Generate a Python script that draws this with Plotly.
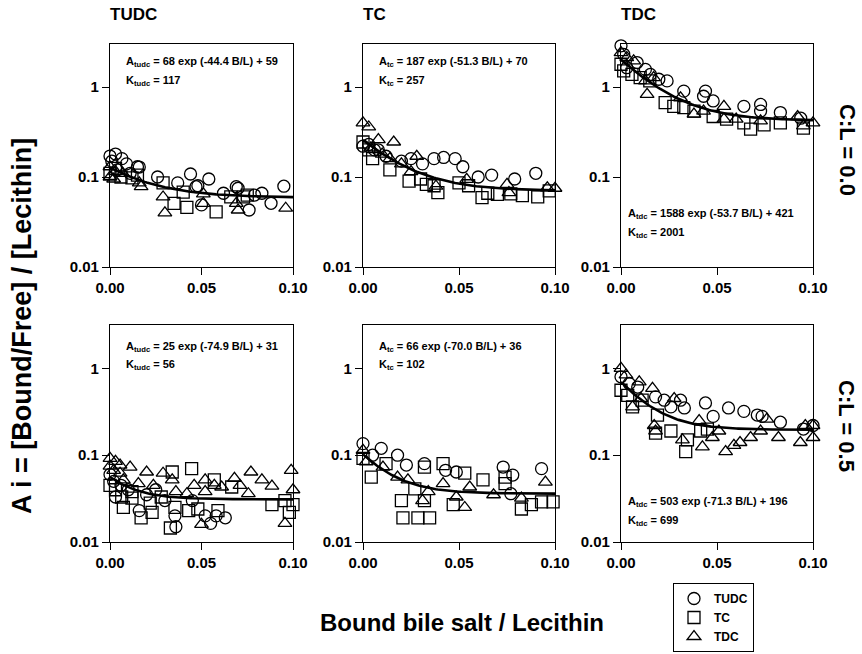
import numpy as np
import plotly.graph_objects as go

# ---------------- data ----------------
panel_titles = ["TUDC", "TC", "TDC"]
row_labels = ["C:L = 0.0", "C:L = 0.5"]
legend_names = ["TUDC", "TC", "TDC"]
x_tick_vals = [0.0, 0.05, 0.10]
x_tick_text = ["0.00", "0.05", "0.10"]
y_tick_vals = [0.01, 0.1, 1]
y_tick_text = ["0.01", "0.1", "1"]

# fit parameters printed in each panel: A = (amp*exp(-rate*B/L) + offset) * 1e-3
fit_amp = [[68, 187, 1588], [25, 66, 503]]
fit_rate = [[44.4, 51.3, 53.7], [74.9, 70.0, 71.3]]
fit_off = [[59, 70, 421], [31, 36, 196]]
fit_k = [[117, 257, 2001], [56, 102, 699]]
fit_sub = ["tudc", "tc", "tdc"]

# --- C:L = 0.0, TUDC panel
r0c0_tudc_x = [0.0, 0.001, 0.003, 0.004, 0.0065, 0.009, 0.011, 0.015, 0.016, 0.026, 0.037, 0.044, 0.047, 0.048, 0.050, 0.054, 0.062, 0.069, 0.070, 0.076, 0.079, 0.083, 0.088, 0.095]
r0c0_tudc_y = [0.171, 0.15, 0.18, 0.12, 0.16, 0.14, 0.11, 0.13, 0.129, 0.10, 0.086, 0.108, 0.078, 0.080, 0.049, 0.095, 0.066, 0.078, 0.075, 0.043, 0.063, 0.066, 0.051, 0.079]
r0c0_tc_x = [0.0, 0.003, 0.006, 0.012, 0.015, 0.029, 0.035, 0.040, 0.042, 0.058, 0.066, 0.073, 0.075]
r0c0_tc_y = [0.11, 0.125, 0.10, 0.098, 0.105, 0.086, 0.051, 0.068, 0.046, 0.041, 0.060, 0.060, 0.063]
r0c0_tdc_x = [0.0, 0.0, 0.002, 0.003, 0.007, 0.016, 0.017, 0.029, 0.030, 0.051, 0.051, 0.069, 0.070, 0.096]
r0c0_tdc_y = [0.13, 0.10, 0.095, 0.115, 0.11, 0.086, 0.078, 0.060, 0.040, 0.065, 0.051, 0.051, 0.043, 0.045]

# --- C:L = 0.0, TC panel
r0c1_tudc_x = [0.0, 0.003, 0.006, 0.008, 0.012, 0.020, 0.025, 0.031, 0.037, 0.042, 0.048, 0.052, 0.060, 0.067, 0.079, 0.090]
r0c1_tudc_y = [0.22, 0.23, 0.20, 0.20, 0.17, 0.15, 0.16, 0.14, 0.16, 0.165, 0.16, 0.13, 0.10, 0.105, 0.095, 0.11]
r0c1_tc_x = [0.0, 0.003, 0.005, 0.014, 0.024, 0.030, 0.033, 0.037, 0.039, 0.050, 0.055, 0.062, 0.065, 0.070, 0.077, 0.083, 0.091, 0.097]
r0c1_tc_y = [0.245, 0.20, 0.16, 0.12, 0.09, 0.095, 0.083, 0.080, 0.067, 0.086, 0.080, 0.059, 0.066, 0.064, 0.065, 0.062, 0.060, 0.070]
r0c1_tdc_x = [0.0, 0.003, 0.004, 0.008, 0.010, 0.014, 0.016, 0.020, 0.025, 0.028, 0.038, 0.054, 0.075, 0.076, 0.096, 0.100]
r0c1_tdc_y = [0.40, 0.36, 0.21, 0.26, 0.18, 0.16, 0.245, 0.14, 0.115, 0.17, 0.079, 0.094, 0.083, 0.067, 0.076, 0.075]

# --- C:L = 0.0, TDC panel
r0c2_tudc_x = [0.0, 0.0014, 0.003, 0.0084, 0.0127, 0.0153, 0.0197, 0.024, 0.0327, 0.043, 0.044, 0.048, 0.064, 0.0727, 0.0727, 0.083, 0.0936]
r0c2_tudc_y = [2.87, 2.31, 1.64, 1.87, 1.57, 1.38, 1.22, 1.17, 0.90, 0.79, 0.90, 0.70, 0.61, 0.64, 0.54, 0.52, 0.45]
r0c2_tc_x = [0.0, 0.0014, 0.0057, 0.010, 0.015, 0.023, 0.0275, 0.0327, 0.038, 0.048, 0.055, 0.064, 0.0675, 0.0745, 0.083, 0.095]
r0c2_tc_y = [1.79, 1.51, 1.38, 1.27, 1.17, 0.67, 0.61, 0.59, 0.54, 0.47, 0.44, 0.40, 0.34, 0.38, 0.40, 0.35]
r0c2_tdc_x = [0.0, 0.003, 0.0066, 0.0127, 0.0136, 0.017, 0.031, 0.038, 0.043, 0.0536, 0.0536, 0.060, 0.0727, 0.092, 0.095, 0.100]
r0c2_tdc_y = [2.41, 2.12, 1.95, 1.17, 0.83, 1.27, 0.76, 0.50, 0.54, 0.61, 0.44, 0.44, 0.42, 0.47, 0.37, 0.40]

# --- C:L = 0.5, TUDC panel
r1c0_tudc_x = [0.0, 0.002, 0.003, 0.006, 0.010, 0.016, 0.020, 0.025, 0.030, 0.0355, 0.036, 0.045, 0.052, 0.055, 0.058, 0.063]
r1c0_tudc_y = [0.060, 0.050, 0.033, 0.045, 0.040, 0.023, 0.035, 0.040, 0.030, 0.020, 0.015, 0.030, 0.020, 0.0164, 0.020, 0.019]
r1c0_tc_x = [0.0, 0.003, 0.0064, 0.0073, 0.012, 0.012, 0.017, 0.022, 0.023, 0.028, 0.033, 0.034, 0.0355, 0.043, 0.0446, 0.048, 0.057, 0.059, 0.0665, 0.0885, 0.0956, 0.098, 0.100]
r1c0_tc_y = [0.045, 0.040, 0.033, 0.025, 0.032, 0.038, 0.019, 0.028, 0.022, 0.033, 0.0145, 0.064, 0.025, 0.023, 0.070, 0.024, 0.052, 0.023, 0.043, 0.027, 0.030, 0.022, 0.027]
r1c0_tdc_x = [0.0, 0.0, 0.002, 0.003, 0.0055, 0.0055, 0.0073, 0.011, 0.0155, 0.020, 0.0237, 0.029, 0.034, 0.036, 0.042, 0.046, 0.050, 0.052, 0.052, 0.057, 0.061, 0.068, 0.071, 0.0756, 0.077, 0.083, 0.0885, 0.0956, 0.099, 0.100]
r1c0_tdc_y = [0.092, 0.075, 0.067, 0.085, 0.077, 0.062, 0.052, 0.073, 0.047, 0.064, 0.045, 0.062, 0.052, 0.038, 0.036, 0.045, 0.016, 0.052, 0.038, 0.045, 0.043, 0.054, 0.045, 0.036, 0.064, 0.052, 0.044, 0.0164, 0.067, 0.040]

# --- C:L = 0.5, TC panel
r1c1_tudc_x = [0.0, 0.005, 0.0095, 0.018, 0.0226, 0.032, 0.043, 0.0486, 0.073, 0.077, 0.078, 0.093]
r1c1_tudc_y = [0.136, 0.10, 0.12, 0.10, 0.077, 0.080, 0.067, 0.064, 0.073, 0.036, 0.059, 0.070]
r1c1_tc_x = [0.0, 0.0043, 0.012, 0.020, 0.0208, 0.027, 0.0286, 0.032, 0.032, 0.0347, 0.0417, 0.047, 0.053, 0.0625, 0.074, 0.074, 0.0825, 0.0877, 0.093, 0.099]
r1c1_tc_y = [0.092, 0.056, 0.080, 0.030, 0.019, 0.041, 0.019, 0.073, 0.030, 0.019, 0.080, 0.027, 0.062, 0.052, 0.056, 0.047, 0.024, 0.027, 0.029, 0.029]
r1c1_tdc_x = [0.0, 0.0017, 0.0104, 0.018, 0.0234, 0.031, 0.034, 0.0417, 0.0486, 0.053, 0.0556, 0.068, 0.0825, 0.095]
r1c1_tdc_y = [0.114, 0.084, 0.073, 0.056, 0.052, 0.030, 0.038, 0.047, 0.033, 0.025, 0.043, 0.035, 0.032, 0.049]

# --- C:L = 0.5, TDC panel
r1c2_tudc_x = [0.0, 0.0043, 0.0087, 0.018, 0.0225, 0.026, 0.031, 0.033, 0.044, 0.048, 0.056, 0.064, 0.071, 0.0735, 0.083, 0.095, 0.100]
r1c2_tudc_y = [0.80, 0.67, 0.61, 0.47, 0.43, 0.36, 0.43, 0.35, 0.40, 0.28, 0.35, 0.32, 0.29, 0.28, 0.24, 0.20, 0.22]
r1c2_tc_x = [0.0, 0.0035, 0.006, 0.011, 0.018, 0.019, 0.026, 0.0337, 0.0346, 0.0415, 0.045]
r1c2_tc_y = [0.56, 0.49, 0.36, 0.43, 0.18, 0.29, 0.19, 0.11, 0.15, 0.19, 0.20]
r1c2_tdc_x = [0.0, 0.0026, 0.006, 0.0095, 0.0104, 0.0164, 0.0173, 0.018, 0.0277, 0.032, 0.0407, 0.0424, 0.0476, 0.051, 0.0545, 0.0588, 0.062, 0.0675, 0.0727, 0.076, 0.082, 0.0934, 0.096, 0.100, 0.100]
r1c2_tdc_y = [1.00, 0.84, 0.36, 0.70, 0.45, 0.59, 0.22, 0.19, 0.45, 0.15, 0.25, 0.125, 0.16, 0.19, 0.11, 0.13, 0.14, 0.16, 0.19, 0.26, 0.16, 0.14, 0.22, 0.16, 0.22]

panel_data = [
    [[(r0c0_tudc_x, r0c0_tudc_y), (r0c0_tc_x, r0c0_tc_y), (r0c0_tdc_x, r0c0_tdc_y)],
     [(r0c1_tudc_x, r0c1_tudc_y), (r0c1_tc_x, r0c1_tc_y), (r0c1_tdc_x, r0c1_tdc_y)],
     [(r0c2_tudc_x, r0c2_tudc_y), (r0c2_tc_x, r0c2_tc_y), (r0c2_tdc_x, r0c2_tdc_y)]],
    [[(r1c0_tudc_x, r1c0_tudc_y), (r1c0_tc_x, r1c0_tc_y), (r1c0_tdc_x, r1c0_tdc_y)],
     [(r1c1_tudc_x, r1c1_tudc_y), (r1c1_tc_x, r1c1_tc_y), (r1c1_tdc_x, r1c1_tdc_y)],
     [(r1c2_tudc_x, r1c2_tudc_y), (r1c2_tc_x, r1c2_tc_y), (r1c2_tdc_x, r1c2_tdc_y)]],
]

# ---------------- layout geometry ----------------
W, H = 862, 654
col_px = [(110, 293), (363, 555), (621, 813)]
row_px = [(44, 267), (325, 542)]
y_ranges = [[-2, 0.478], [-2, 0.5]]
symbols = ["circle-open", "square-open", "triangle-up-open"]
FONT = "Liberation Sans, Arial, Helvetica, sans-serif"

fig = go.Figure()
layout = dict(
    width=W, height=H,
    margin=dict(l=0, r=0, t=0, b=0, pad=0, autoexpand=False),
    paper_bgcolor="white", plot_bgcolor="white",
    font=dict(family=FONT, color="black"),
    showlegend=True,
    legend=dict(x=673 / W, y=1 - 583 / H, xanchor="left", yanchor="top",
                bordercolor="black", borderwidth=1, bgcolor="white",
                font=dict(size=12, family=FONT, weight="bold"),
                tracegroupgap=0, itemwidth=30),
)

annotations = []
xfit = np.linspace(0, 0.1, 101)
idx = 0
for r in range(2):
    for c in range(3):
        idx += 1
        xa = "x" if idx == 1 else f"x{idx}"
        ya = "y" if idx == 1 else f"y{idx}"
        layout["xaxis" if idx == 1 else f"xaxis{idx}"] = dict(
            domain=[col_px[c][0] / W, col_px[c][1] / W], anchor=ya,
            range=[0, 0.1], tickvals=x_tick_vals, ticktext=x_tick_text,
            ticks="outside", ticklen=7, tickwidth=1.2, tickcolor="black",
            showline=True, linecolor="black", linewidth=1.3, mirror=True,
            showgrid=False, zeroline=False, automargin=False,
            tickfont=dict(size=15, family=FONT, color="black", weight="bold"))
        layout["yaxis" if idx == 1 else f"yaxis{idx}"] = dict(
            domain=[1 - row_px[r][1] / H, 1 - row_px[r][0] / H], anchor=xa,
            type="log", range=y_ranges[r], tickvals=y_tick_vals, ticktext=y_tick_text,
            ticks="outside", ticklen=7, tickwidth=1.2, tickcolor="black",
            showline=True, linecolor="black", linewidth=1.3, mirror=True,
            showgrid=False, zeroline=False, automargin=False,
            tickfont=dict(size=15, family=FONT, color="black", weight="bold"))
        for s in range(3):
            xs, ys = panel_data[r][c][s]
            fig.add_trace(go.Scatter(
                x=xs, y=ys, mode="markers", xaxis=xa, yaxis=ya,
                name=legend_names[s], showlegend=(idx == 1), cliponaxis=False,
                marker=dict(symbol=symbols[s], size=12, color="black",
                            line=dict(color="black", width=1.3))))
        yfit = (fit_amp[r][c] * np.exp(-fit_rate[r][c] * xfit) + fit_off[r][c]) / 1000.0
        fig.add_trace(go.Scatter(x=xfit, y=yfit, mode="lines", xaxis=xa, yaxis=ya,
                                 showlegend=False, line=dict(color="black", width=2.6)))
        # equation text
        sub = fit_sub[c]
        eq = (f"A<sub>{sub}</sub> = {fit_amp[r][c]} exp (-{fit_rate[r][c]:.1f} B/L) + {fit_off[r][c]}")
        kk = f"K<sub>{sub}</sub> = {fit_k[r][c]}"
        x0 = col_px[c][0] + (14 if c < 2 else 5)
        if c == 2:
            ylines = (214, 233) if r == 0 else (502, 521)
        else:
            ylines = (62, 81) if r == 0 else (347, 365)
        for txt, yy in zip((eq, kk), ylines):
            annotations.append(dict(
                text=txt, xref="paper", yref="paper", x=x0 / W, y=1 - yy / H,
                xanchor="left", yanchor="middle", showarrow=False,
                font=dict(size=11, family=FONT, color="black", weight="bold")))

# column titles
for c, t in enumerate(panel_titles):
    annotations.append(dict(text=t, xref="paper", yref="paper",
                            x=(col_px[c][0] - 2) / W, y=1 - 15 / H,
                            xanchor="left", yanchor="middle", showarrow=False,
                            font=dict(size=17, family=FONT, color="black", weight="bold")))
# row labels
for r, (t, yc) in enumerate(zip(row_labels, (150, 426))):
    annotations.append(dict(text=t, xref="paper", yref="paper", x=847 / W, y=1 - yc / H,
                            xanchor="center", yanchor="middle", showarrow=False, textangle=90,
                            font=dict(size=22, family=FONT, color="black", weight="bold")))
# axis titles
annotations.append(dict(text="A i = [Bound/Free] / [Lecithin]", xref="paper", yref="paper",
                        x=22 / W, y=1 - 326 / H, xanchor="center", yanchor="middle",
                        showarrow=False, textangle=-90,
                        font=dict(size=27, family=FONT, color="black", weight="bold")))
annotations.append(dict(text="Bound bile salt / Lecithin", xref="paper", yref="paper",
                        x=462 / W, y=1 - 622 / H, xanchor="center", yanchor="middle",
                        showarrow=False,
                        font=dict(size=24, family=FONT, color="black", weight="bold")))

layout["annotations"] = annotations
fig.update_layout(**layout)
fig.write_html("out.html", config={"displayModeBar": False},
               post_script="document.body.style.margin='0';document.body.style.overflow='hidden';")
